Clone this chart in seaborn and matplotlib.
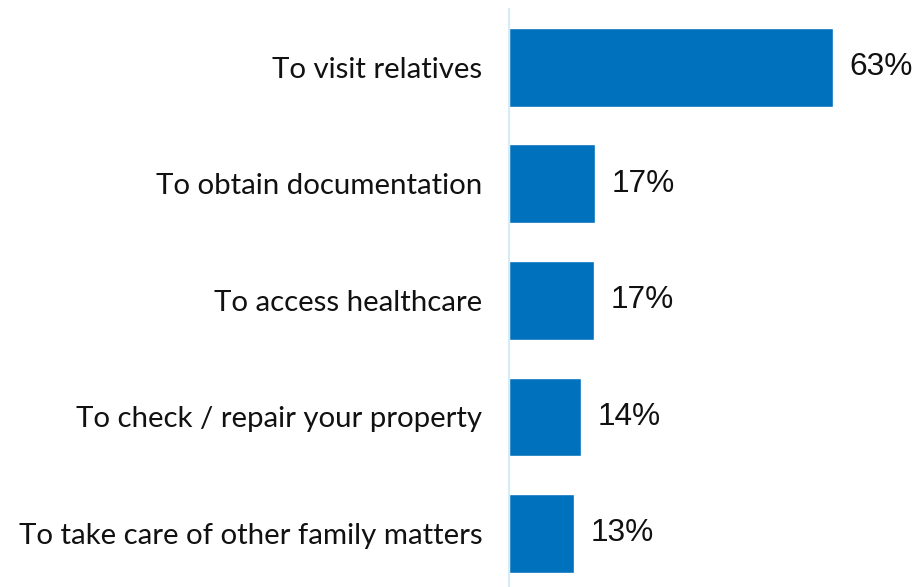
import matplotlib as mpl
import matplotlib.pyplot as plt
import seaborn as sns
import pandas as pd

sns.set_style('white')
plt.rcParams['font.family'] = ['Lato', 'DejaVu Sans']

reasons = ['To visit relatives', 'To obtain documentation', 'To access healthcare',
           'To check / repair your property', 'To take care of other family matters']
shares = [63, 16.7, 16.4, 14, 12.5]
share_labels = ['63%', '17%', '17%', '14%', '13%']

df = pd.DataFrame({'reason': reasons, 'share': shares})

fig = plt.figure(figsize=(9.17, 5.87), dpi=100)
# axes placed so the bars start at ~510px and the spine runs from near the top to the bottom
ax = fig.add_axes([509.5 / 917, 0, 1 - 509.5 / 917, 578 / 587])

sns.barplot(data=df, x='share', y='reason', color='#0071bc', saturation=1,
            width=0.675, ax=ax)

ax.bar_label(ax.containers[0], labels=share_labels, padding=12,
             fontsize=22.8, color='#111111', family=['Liberation Sans', 'DejaVu Sans'])

ax.set_xlim(0, (917 - 509.5) / 5.13)
ax.set_ylim(4.46, -0.5)
ax.set_xlabel('')
ax.set_ylabel('')
ax.set_xticks([])
ax.tick_params(axis='y', length=0, pad=19.5, labelsize=21.2, labelcolor='#111111')

for s in ['top', 'right', 'bottom']:
    ax.spines[s].set_visible(False)
ax.spines['left'].set_color('#d6ebf8')
ax.spines['left'].set_linewidth(1.5)

fig.savefig('out.png', dpi=100, facecolor='w')
